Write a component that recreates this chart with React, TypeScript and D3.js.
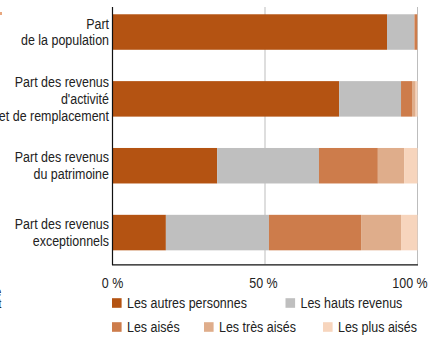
import React from "react";
import * as d3 from "d3";

const categories = [
  ["Part", "de la population"],
  ["Part des revenus", "d'activité", "et de remplacement"],
  ["Part des revenus", "du patrimoine"],
  ["Part des revenus", "exceptionnels"],
];
const seriesNames = ["Les autres personnes", "Les hauts revenus", "Les aisés", "Les très aisés", "Les plus aisés"];
const autres = [90, 74.3, 34.3, 17.5];
const hauts = [9, 20.3, 33.4, 33.8];
const aises = [0.9, 3.6, 19.3, 30.2];
const tresAises = [0.09, 1.2, 8.6, 13.1];
const plusAises = [0.01, 0.6, 4.4, 5.4];
const xTicks = [0, 50, 100];
const tickLabels = ["0 %", "50 %", "100 %"];

const colors = ["#B45312", "#BFBFBF", "#CD7C4B", "#DFAD8B", "#F7D5BD"];
const FONT = "'Liberation Sans', Arial, sans-serif";
const SX = 0.86;

function NText({ x, y, anchor, size, children }: any) {
  return (
    <g transform={`translate(${x},${y}) scale(${SX},1)`}>
      <text x={0} y={0} textAnchor={anchor || "start"} fontSize={size || 14} fill="#222">
        {children}
      </text>
    </g>
  );
}

export default function App() {
  const W = 431, H = 342;
  const x = d3.scaleLinear().domain([0, 100]).range([112.5, 417.5]);
  const y = d3.scaleBand<number>().domain([0, 1, 2, 3]).range([-1.4, 266]).paddingInner(0.47).paddingOuter(0.235);
  const series = [autres, hauts, aises, tresAises, plusAises];
  const table = categories.map((_, i) => {
    const o: any = { i };
    series.forEach((s, k) => (o["s" + k] = s[i]));
    return o;
  });
  const stack = d3.stack().keys(series.map((_, k) => "s" + k))(table);
  const bh = 35.5;

  const legendItems = [
    { k: 0, x: 112, y: 303 },
    { k: 1, x: 285.5, y: 303 },
    { k: 2, x: 112, y: 327 },
    { k: 3, x: 204, y: 327 },
    { k: 4, x: 323, y: 327 },
  ];

  return (
    <svg width={W} height={H} style={{ position: "absolute", left: 0, top: 0, background: "#fff" }} fontFamily={FONT}>
      {[50, 100].map((t) => (
        <line key={t} x1={x(t)} x2={x(t)} y1={7} y2={264} stroke="#BDBDBD" strokeWidth={1} />
      ))}
      {stack.map((layer, k) =>
        layer.map((d, i) => {
          const cy = (y(i) as number) + y.bandwidth() / 2;
          return (
            <rect
              key={k + "-" + i}
              x={x(d[0])}
              y={cy - bh / 2}
              width={Math.max(0, x(d[1]) - x(d[0]))}
              height={bh}
              fill={colors[k]}
            />
          );
        })
      )}
      <line x1={112.5} x2={112.5} y1={7} y2={265} stroke="#111" strokeWidth={1.2} />
      <line x1={112} x2={418} y1={264.8} y2={264.8} stroke="#111" strokeWidth={1.2} />
      {categories.map((lines, i) => {
        const cy = (y(i) as number) + y.bandwidth() / 2;
        const lh = 16.8;
        const start = cy - ((lines.length - 1) * lh) / 2;
        return (
          <g key={i}>
            {lines.map((l, j) => (
              <NText key={j} x={109} y={start + j * lh + 5} anchor="end" size={14.5}>
                {l}
              </NText>
            ))}
          </g>
        );
      })}
      {xTicks.map((t, i) => (
        <NText key={t} x={i === 2 ? 410 : x(t) - (i === 1 ? 1.5 : 0)} y={288} anchor="middle" size={14.5}>
          {tickLabels[i]}
        </NText>
      ))}
      {legendItems.map((it) => (
        <g key={it.k}>
          <rect x={it.x} y={it.y - 4.8} width={9.6} height={9.6} fill={colors[it.k]} />
          <NText x={it.x + 15} y={it.y + 5} size={14.5}>
            {seriesNames[it.k]}
          </NText>
        </g>
      ))}
      <NText x={-4.5} y={296} size={12}>e</NText>
      <NText x={-1.5} y={308} size={12}>t</NText>
      <rect x={0} y={12} width={2} height={3} fill="#E8A880" />
    </svg>
  );
}
